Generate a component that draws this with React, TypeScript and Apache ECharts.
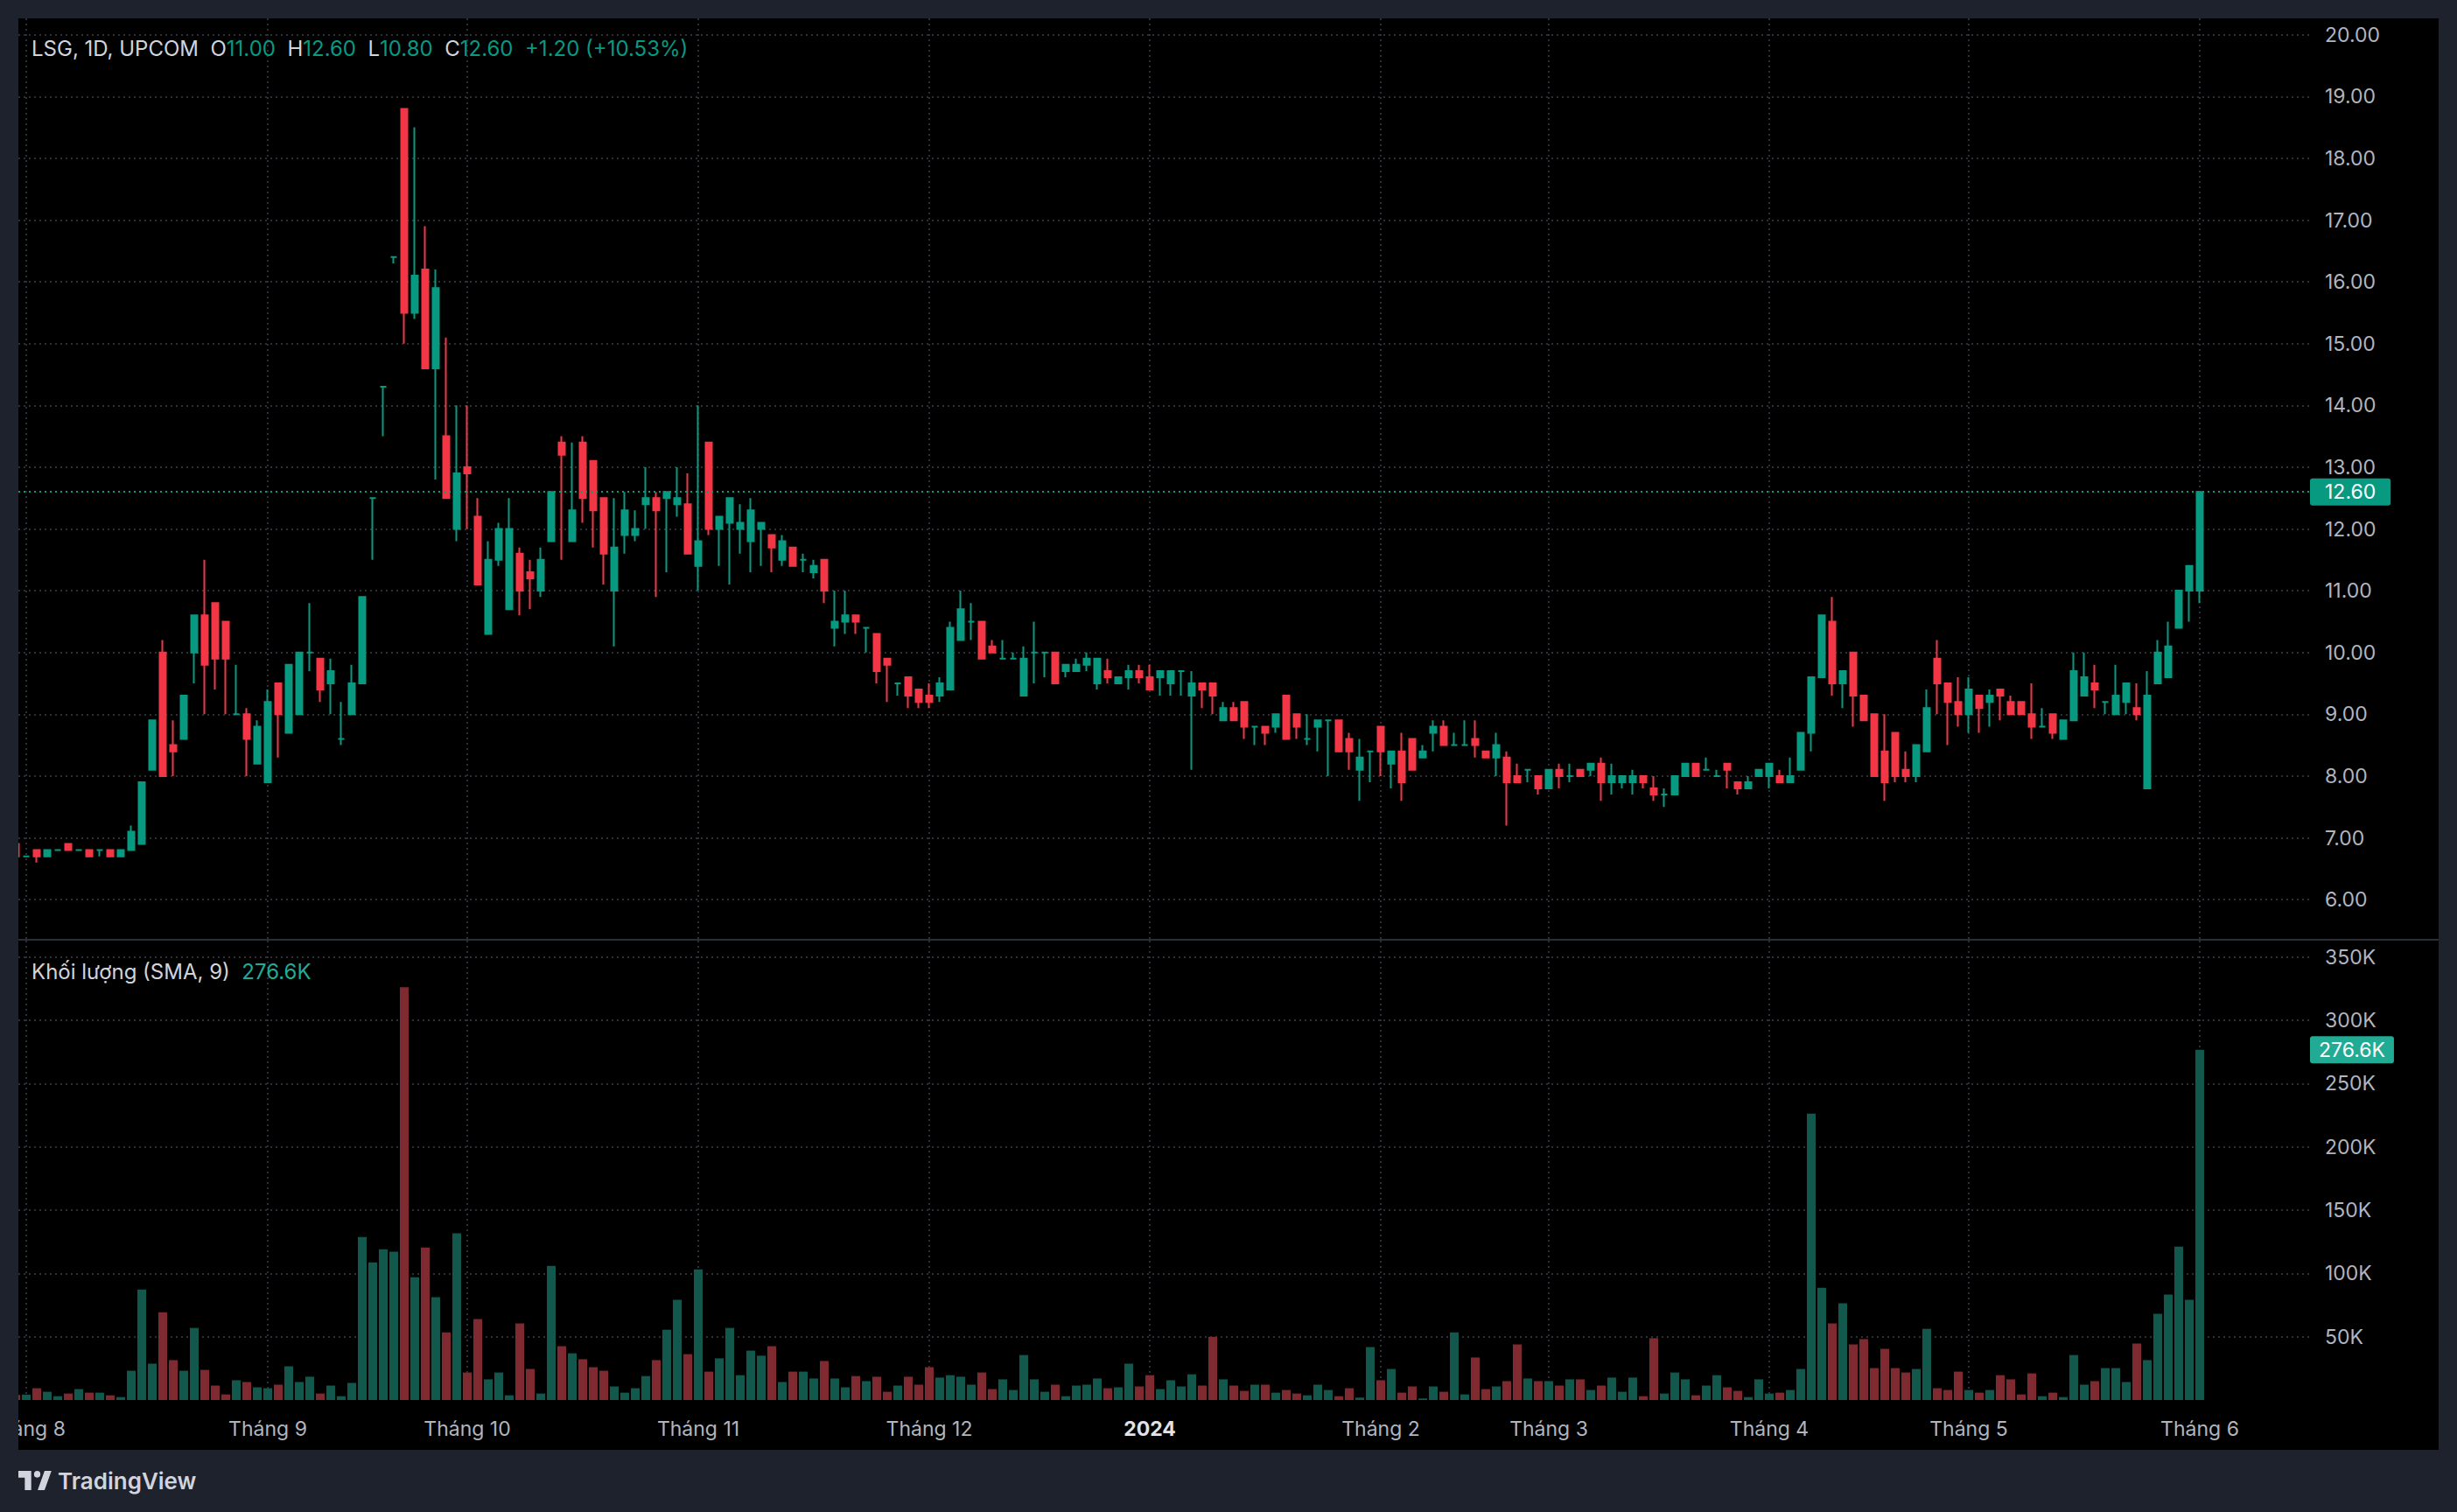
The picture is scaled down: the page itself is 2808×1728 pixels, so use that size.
import React, { useEffect, useRef } from 'react';
import * as echarts from 'echarts';

// ---------------- DATA ----------------
const opens = [
  6.9, 6.7, 6.8, 6.7, 6.8, 6.9, 6.8, 6.8, 6.8, 6.8,
  6.7, 6.8, 6.9, 8.1, 10.0, 8.5, 8.6, 10.0, 10.6, 10.8,
  10.5, 9.0, 9.0, 8.2, 7.9, 9.5, 8.7, 9.0, 10.0, 9.9,
  9.5, 8.6, 9.0, 9.5, 12.5, 14.3, 16.4, 18.8, 15.5, 16.2,
  14.6, 13.5, 12.0, 13.0, 12.2, 10.3, 11.5, 10.7, 11.6, 11.3,
  11.0, 11.8, 13.4, 11.8, 13.4, 13.1, 12.5, 11.0, 11.9, 11.9,
  12.4, 12.5, 12.5, 12.4, 12.4, 11.4, 13.4, 12.0, 12.1, 12.0,
  11.8, 12.0, 11.9, 11.5, 11.7, 11.5, 11.3, 11.5, 10.4, 10.5,
  10.6, 10.4, 10.3, 9.9, 9.5, 9.6, 9.4, 9.3, 9.3, 9.4,
  10.2, 10.5, 10.5, 10.1, 9.9, 9.9, 9.3, 10.0, 10.0, 10.0,
  9.7, 9.7, 9.8, 9.5, 9.7, 9.5, 9.6, 9.7, 9.6, 9.6,
  9.5, 9.7, 9.3, 9.5, 9.5, 8.9, 9.1, 9.2, 8.8, 8.8,
  8.8, 9.3, 9.0, 8.6, 8.8, 8.9, 8.9, 8.6, 8.1, 8.4,
  8.8, 8.2, 8.4, 8.6, 8.3, 8.7, 8.8, 8.5, 8.5, 8.6,
  8.4, 8.3, 8.3, 8.0, 8.1, 8.0, 7.8, 8.1, 8.0, 8.1,
  8.1, 8.2, 7.9, 7.9, 7.9, 8.0, 7.8, 7.7, 7.7, 8.0,
  8.2, 8.1, 8.0, 8.2, 7.9, 7.8, 8.0, 8.0, 8.0, 7.9,
  8.1, 8.7, 9.6, 10.5, 9.5, 10.0, 9.3, 9.0, 8.4, 8.7,
  8.1, 8.0, 8.4, 9.9, 9.5, 9.2, 9.0, 9.3, 9.2, 9.4,
  9.2, 9.2, 9.0, 8.8, 9.0, 8.6, 8.9, 9.3, 9.5, 9.2,
  9.0, 9.2, 9.1, 7.8, 9.5, 9.6, 10.4, 11.0, 11.0,
];

const closes = [
  6.7, 6.7, 6.7, 6.8, 6.8, 6.8, 6.8, 6.7, 6.8, 6.7,
  6.8, 7.1, 7.9, 8.9, 8.0, 8.4, 9.3, 10.6, 9.8, 9.9,
  9.9, 9.0, 8.6, 8.8, 9.2, 9.0, 9.8, 10.0, 10.0, 9.4,
  9.7, 8.6, 9.5, 10.9, 12.5, 14.3, 16.4, 15.5, 16.1, 14.6,
  15.9, 12.5, 12.9, 12.9, 11.1, 11.5, 12.0, 12.0, 11.0, 11.2,
  11.5, 12.6, 13.2, 12.3, 12.5, 12.3, 11.6, 11.7, 12.3, 12.0,
  12.5, 12.3, 12.6, 12.5, 11.6, 11.8, 12.0, 12.2, 12.5, 12.1,
  12.3, 12.1, 11.7, 11.8, 11.4, 11.5, 11.4, 11.0, 10.5, 10.6,
  10.5, 10.4, 9.7, 9.8, 9.5, 9.3, 9.2, 9.2, 9.5, 10.4,
  10.7, 10.5, 9.9, 10.0, 9.9, 9.9, 9.9, 10.0, 10.0, 9.5,
  9.8, 9.8, 9.9, 9.9, 9.6, 9.6, 9.7, 9.6, 9.4, 9.7,
  9.7, 9.7, 9.5, 9.4, 9.3, 9.1, 8.9, 8.8, 8.8, 8.7,
  9.0, 8.6, 8.8, 8.6, 8.9, 8.9, 8.4, 8.4, 8.3, 8.4,
  8.4, 8.4, 7.9, 8.1, 8.4, 8.8, 8.5, 8.5, 8.5, 8.5,
  8.3, 8.5, 7.9, 7.9, 8.1, 7.8, 8.1, 8.0, 8.0, 8.0,
  8.2, 7.9, 8.0, 8.0, 8.0, 7.9, 7.7, 7.7, 8.0, 8.2,
  8.0, 8.1, 8.0, 8.1, 7.8, 7.9, 8.1, 8.2, 7.9, 8.0,
  8.7, 9.6, 10.6, 9.5, 9.7, 9.3, 8.9, 8.0, 7.9, 8.0,
  8.0, 8.5, 9.1, 9.5, 9.2, 9.0, 9.4, 9.1, 9.3, 9.3,
  9.0, 9.0, 8.8, 8.8, 8.7, 8.9, 9.7, 9.6, 9.4, 9.2,
  9.3, 9.5, 9.0, 9.3, 10.0, 10.1, 11.0, 11.4, 12.6,
];

const lows = [
  6.7, 6.7, 6.6, 6.7, 6.8, 6.8, 6.8, 6.7, 6.7, 6.7,
  6.7, 6.8, 6.9, 8.1, 8.0, 8.0, 8.6, 9.5, 9.0, 9.4,
  9.0, 9.0, 8.0, 8.2, 7.9, 8.3, 8.7, 9.0, 9.7, 9.2,
  9.0, 8.5, 9.0, 9.5, 11.5, 13.5, 16.3, 15.0, 15.4, 14.6,
  12.8, 12.5, 11.8, 12.0, 11.1, 10.3, 11.4, 10.7, 10.6, 10.7,
  10.9, 11.8, 11.5, 11.8, 12.1, 11.7, 11.1, 10.1, 11.6, 11.8,
  12.0, 10.9, 11.3, 12.2, 11.6, 11.0, 11.9, 11.4, 11.1, 11.6,
  11.3, 11.4, 11.3, 11.4, 11.4, 11.3, 11.2, 10.8, 10.1, 10.3,
  10.3, 10.0, 9.5, 9.2, 9.3, 9.1, 9.1, 9.1, 9.2, 9.4,
  10.2, 10.2, 9.9, 10.0, 9.9, 9.9, 9.3, 9.5, 9.6, 9.5,
  9.6, 9.7, 9.7, 9.4, 9.5, 9.5, 9.4, 9.5, 9.4, 9.3,
  9.3, 9.3, 8.1, 9.1, 9.0, 8.9, 8.9, 8.6, 8.5, 8.5,
  8.7, 8.6, 8.6, 8.5, 8.4, 8.0, 8.4, 8.1, 7.6, 7.9,
  8.0, 7.8, 7.6, 8.1, 8.3, 8.4, 8.5, 8.5, 8.5, 8.3,
  8.3, 8.0, 7.2, 7.9, 7.9, 7.7, 7.8, 7.8, 7.9, 8.0,
  8.0, 7.6, 7.7, 7.8, 7.7, 7.8, 7.6, 7.5, 7.7, 8.0,
  8.0, 8.1, 8.0, 7.8, 7.7, 7.8, 8.0, 7.8, 7.9, 7.9,
  8.1, 8.4, 9.6, 9.3, 9.1, 8.8, 8.9, 8.0, 7.6, 7.9,
  7.9, 7.9, 8.4, 9.0, 8.5, 8.8, 8.7, 8.7, 8.8, 8.9,
  9.0, 9.0, 8.6, 8.8, 8.6, 8.6, 8.9, 9.3, 9.1, 9.0,
  9.0, 9.0, 8.9, 7.8, 9.5, 9.6, 10.4, 10.5, 10.8,
];

const highs = [
  6.9, 6.7, 6.8, 6.8, 6.8, 6.9, 6.8, 6.8, 6.8, 6.8,
  6.8, 7.2, 7.9, 8.9, 10.2, 8.9, 9.3, 10.6, 11.5, 10.8,
  10.5, 9.8, 9.1, 8.9, 9.4, 9.5, 9.8, 10.0, 10.8, 9.9,
  9.9, 9.2, 9.8, 10.9, 12.5, 14.3, 16.4, 18.8, 18.5, 16.9,
  16.2, 15.1, 14.0, 14.0, 12.5, 11.8, 12.1, 12.5, 11.7, 11.5,
  11.7, 12.6, 13.5, 13.4, 13.5, 13.1, 12.5, 12.5, 12.6, 12.3,
  13.0, 12.6, 12.6, 13.0, 12.9, 14.0, 13.4, 12.2, 12.5, 12.4,
  12.5, 12.1, 11.9, 11.9, 11.7, 11.6, 11.5, 11.5, 11.0, 11.0,
  10.6, 10.4, 10.3, 9.9, 9.5, 9.6, 9.4, 9.5, 9.6, 10.5,
  11.0, 10.8, 10.5, 10.2, 10.2, 10.0, 10.1, 10.5, 10.0, 10.0,
  9.8, 9.9, 10.0, 9.9, 9.9, 9.6, 9.8, 9.8, 9.8, 9.7,
  9.7, 9.7, 9.7, 9.5, 9.5, 9.2, 9.2, 9.2, 8.8, 8.8,
  9.0, 9.3, 9.0, 9.0, 8.9, 8.9, 8.9, 8.7, 8.6, 8.4,
  8.8, 8.4, 8.7, 8.6, 8.5, 8.9, 8.9, 8.7, 8.9, 8.9,
  8.4, 8.7, 8.4, 8.2, 8.1, 8.0, 8.1, 8.2, 8.2, 8.1,
  8.2, 8.3, 8.2, 8.0, 8.1, 8.0, 8.0, 7.8, 8.0, 8.2,
  8.2, 8.3, 8.1, 8.2, 7.9, 8.0, 8.1, 8.2, 8.1, 8.3,
  8.7, 9.6, 10.6, 10.9, 9.7, 10.0, 9.3, 9.0, 9.0, 8.7,
  8.4, 8.5, 9.4, 10.2, 9.5, 9.6, 9.6, 9.3, 9.4, 9.4,
  9.3, 9.2, 9.5, 9.1, 9.0, 8.9, 10.0, 10.0, 9.8, 9.2,
  9.8, 9.5, 9.5, 9.7, 10.2, 10.5, 11.0, 11.4, 12.6,
];

// volume in thousands of shares
const volumesK = [
  4.0, 4.2, 9.3, 6.5, 3.0, 5.1, 8.6, 5.8, 5.8, 3.7,
  2.3, 23.1, 87.3, 28.7, 69.3, 31.5, 23.1, 56.9, 23.8, 11.4,
  4.4, 15.6, 14.2, 10.0, 9.3, 12.1, 26.6, 14.2, 18.4, 5.1,
  11.4, 3.0, 13.5, 128.8, 108.7, 119.0, 117.1, 326.0, 97.0, 120.4,
  81.2, 53.4, 131.6, 21.7, 63.9, 16.3, 21.7, 3.7, 60.4, 24.5,
  5.1, 105.9, 42.5, 36.9, 32.2, 25.9, 23.1, 10.7, 5.8, 9.3,
  18.9, 31.5, 55.5, 79.1, 36.2, 103.1, 22.4, 32.9, 56.9, 19.6,
  39.0, 35.0, 42.5, 14.2, 22.4, 22.4, 17.0, 30.8, 17.0, 10.0,
  18.9, 14.9, 18.4, 6.5, 11.4, 18.4, 12.1, 25.9, 17.7, 19.6,
  18.4, 12.1, 21.7, 8.6, 16.3, 7.9, 35.5, 16.3, 6.5, 12.1,
  3.0, 11.4, 12.1, 17.0, 9.3, 10.0, 28.7, 10.7, 19.6, 8.6,
  15.6, 10.7, 20.3, 11.4, 49.9, 16.3, 11.4, 7.2, 12.1, 12.1,
  5.8, 7.9, 5.1, 3.7, 12.1, 7.9, 3.0, 9.3, 1.9, 41.8,
  15.6, 24.5, 5.8, 10.7, 1.2, 10.7, 6.5, 53.4, 4.4, 33.6,
  8.6, 10.7, 14.9, 43.9, 17.0, 14.9, 14.9, 11.4, 16.3, 16.3,
  7.9, 11.4, 17.7, 6.5, 17.7, 3.0, 48.8, 5.1, 21.7, 16.3,
  3.7, 11.4, 19.6, 10.0, 7.2, 2.3, 16.3, 5.1, 5.8, 7.9,
  24.5, 226.1, 88.7, 60.4, 76.3, 43.9, 48.1, 25.2, 40.4, 25.2,
  21.7, 24.5, 56.2, 9.3, 7.9, 22.4, 7.9, 5.8, 7.9, 19.6,
  16.3, 4.4, 21.0, 3.0, 5.8, 2.3, 35.5, 12.1, 14.9, 25.2,
  25.2, 14.2, 44.6, 31.5, 68.1, 83.3, 121.1, 79.1, 276.6,
];

// time axis: index of first trading day of each month, and its label
const monthTickIndex = [1, 24, 43, 65, 87, 108, 130, 146, 167, 186, 208];
const monthTickLabels = ['Tháng 8', 'Tháng 9', 'Tháng 10', 'Tháng 11', 'Tháng 12', '2024', 'Tháng 2', 'Tháng 3', 'Tháng 4', 'Tháng 5', 'Tháng 6'];
const yearLabels = ['2024'];

const priceTicks = [6, 7, 8, 9, 10, 11, 12, 13, 14, 15, 16, 17, 18, 19, 20];
const volumeTicks = [50000, 100000, 150000, 200000, 250000, 300000, 350000];

const symbolTitle = 'LSG, 1D, UPCOM';
const volumeTitle = 'Khối lượng (SMA, 9)';
const brandName = 'TradingView';

// ---------------- STYLE ----------------
const UP = '#089981';
const DOWN = '#f23645';
const VOL_UP = '#12584d';
const VOL_DOWN = '#7f2a31';
const FRAME = '#1e222d';
const AXIS_TEXT = '#b2b5be';
const LEGEND_TEXT = '#d1d4dc';
const FONT = 'Inter, Roboto, "Noto Sans", sans-serif';
const GRID_LINE = { color: '#2c2f37', width: 2, type: [2, 4] as any };

// logo shape (approximation of the TradingView mark)
echarts.graphic.registerShape(
  'tvlogo',
  echarts.graphic.extendPath(
    'M0 0H14V20H7V7H0Z M24 3.5A3.5 3.5 0 1 1 17 3.5A3.5 3.5 0 1 1 24 3.5Z M21 20L28.5 0H36L28.5 20Z',
    {}
  ) as any
);

export default function App() {
  const ref = useRef<HTMLDivElement>(null);

  useEffect(() => {
    const el = ref.current;
    if (!el) return;
    const chart = echarts.init(el, null, { renderer: 'svg' });

    const W = 2808;
    const H = 1728;
    const paneLeft = 21;
    const paneRight = 2640;
    const axisRight = 2787;
    const priceTop = 21;
    const priceBottom = 1073;
    const volTop = 1075;
    const volBottom = 1600;
    const frameBottom = 1657;

    const pxPerCandle = 12;
    const xMin = 0.25;
    const xMax = xMin + (paneRight - paneLeft) / pxPerCandle;

    // price scale: 20 at y=39.7, 70.6 px per unit
    const y20 = 39.7;
    const pxPerUnit = 70.6;
    const priceMax = 20 + (y20 - priceTop) / pxPerUnit;
    const priceMin = 20 - (priceBottom - y20) / pxPerUnit;
    // volume scale: 72.35 px per 50K
    const volMax = ((volBottom - volTop) / 72.35) * 50000;

    const n = opens.length;
    const last = n - 1;
    const lastClose = closes[last];
    const prevClose = closes[last - 1];
    const chg = lastClose - prevClose;
    const chgPct = (chg / prevClose) * 100;
    const lastVol = volumesK[last] * 1000;

    const candleData = opens.map((o, i) => {
      const c = closes[i];
      const col = c >= o ? UP : DOWN;
      return {
        value: [i, o, c, lows[i], highs[i]],
        itemStyle: { color: col, color0: col, borderColor: col, borderColor0: col, borderColorDoji: col },
      };
    });
    const volData = volumesK.map((v, i) => ({
      value: [i, v * 1000],
      itemStyle: { color: closes[i] >= opens[i] ? VOL_UP : VOL_DOWN },
    }));

    const labelFor = (v: number) => {
      const k = monthTickIndex.indexOf(Math.round(v));
      if (k < 0) return '';
      const t = monthTickLabels[k];
      return yearLabels.includes(t) ? `{y|${t}}` : t;
    };

    const fmt = (v: number) => v.toFixed(2);
    const sign = chg >= 0 ? '+' : '';
    const headerText =
      `{n|${symbolTitle}}  ` +
      `{n|O}{v|${fmt(opens[last])}}  ` +
      `{n|H}{v|${fmt(highs[last])}}  ` +
      `{n|L}{v|${fmt(lows[last])}}  ` +
      `{n|C}{v|${fmt(lastClose)}}  ` +
      `{v|${sign}${fmt(chg)} (${sign}${fmt(chgPct)}%)}`;

    const option: any = {
      animation: false,
      backgroundColor: '#000000',
      textStyle: { fontFamily: FONT },
      grid: [
        { left: paneLeft, top: priceTop, width: paneRight - paneLeft, height: priceBottom - priceTop, containLabel: false, outerBoundsMode: 'none' },
        { left: paneLeft, top: volTop, width: paneRight - paneLeft, height: volBottom - volTop, containLabel: false, outerBoundsMode: 'none' },
      ],
      xAxis: [
        {
          type: 'value', gridIndex: 0, min: xMin, max: xMax,
          axisLine: { show: false },
          axisTick: { show: false, customValues: monthTickIndex },
          axisLabel: { show: false, customValues: monthTickIndex },
          splitLine: { show: true, lineStyle: GRID_LINE },
        },
        {
          type: 'value', gridIndex: 1, min: xMin, max: xMax,
          axisLine: { show: false },
          axisTick: { show: false, customValues: monthTickIndex },
          axisLabel: {
            show: true, customValues: monthTickIndex, formatter: labelFor,
            color: AXIS_TEXT, fontSize: 23, margin: 21, fontFamily: FONT,
            rich: { y: { fontWeight: 'bold', color: '#e0e3eb', fontSize: 23, fontFamily: FONT } },
          },
          splitLine: { show: true, lineStyle: GRID_LINE },
        },
      ],
      yAxis: [
        {
          type: 'value', gridIndex: 0, position: 'right', min: priceMin, max: priceMax,
          axisLine: { show: false },
          axisTick: { show: false, customValues: priceTicks },
          axisLabel: {
            customValues: priceTicks, formatter: (v: number) => v.toFixed(2),
            align: 'left', margin: 17, color: AXIS_TEXT, fontSize: 23, fontFamily: FONT,
          },
          splitLine: { show: true, lineStyle: GRID_LINE },
        },
        {
          type: 'value', gridIndex: 1, position: 'right', min: 0, max: volMax,
          axisLine: { show: false },
          axisTick: { show: false, customValues: volumeTicks },
          axisLabel: {
            customValues: volumeTicks, formatter: (v: number) => `${Math.round(v / 1000)}K`,
            align: 'left', margin: 17, color: AXIS_TEXT, fontSize: 23, fontFamily: FONT,
          },
          splitLine: { show: true, lineStyle: GRID_LINE },
        },
      ],
      series: [
        {
          type: 'candlestick',
          xAxisIndex: 0, yAxisIndex: 0,
          clip: false,
          barWidth: 8,
          encode: { x: 0, y: [1, 2, 3, 4] },
          itemStyle: { color: UP, color0: DOWN, borderColor: UP, borderColor0: DOWN, borderWidth: 2 },
          data: candleData,
          markLine: {
            silent: true,
            symbol: ['none', 'none'],
            lineStyle: { color: UP, width: 2, type: [2, 4] },
            label: {
              show: true, position: 'end', distance: 0,
              formatter: () => fmt(lastClose),
              color: '#ffffff', backgroundColor: chg >= 0 ? UP : DOWN,
              padding: [4, 17, 4, 17], borderRadius: 3, fontSize: 23, fontFamily: FONT,
            },
            data: [{ yAxis: lastClose }],
          },
        },
        {
          type: 'bar',
          xAxisIndex: 1, yAxisIndex: 1,
          barWidth: 10,
          data: volData,
          markLine: {
            silent: true,
            symbol: ['none', 'none'],
            lineStyle: { color: 'rgba(0,0,0,0)', width: 1, type: 'solid' },
            label: {
              show: true, position: 'end', distance: 0,
              formatter: () => `${(lastVol / 1000).toFixed(1)}K`,
              color: '#ffffff', backgroundColor: '#22ab94',
              padding: [4, 10, 4, 10], borderRadius: 3, fontSize: 23, fontFamily: FONT,
            },
            data: [{ yAxis: lastVol }],
          },
        },
      ],
      graphic: [
        { type: 'rect', silent: true, z: 100, shape: { x: 0, y: 0, width: W, height: priceTop }, style: { fill: FRAME } },
        { type: 'rect', silent: true, z: 100, shape: { x: 0, y: 0, width: paneLeft, height: H }, style: { fill: FRAME } },
        { type: 'rect', silent: true, z: 100, shape: { x: axisRight, y: 0, width: W - axisRight, height: H }, style: { fill: FRAME } },
        { type: 'rect', silent: true, z: 100, shape: { x: 0, y: frameBottom, width: W, height: H - frameBottom }, style: { fill: FRAME } },
        { type: 'line', silent: true, z: 100, shape: { x1: paneLeft, y1: 1074, x2: axisRight, y2: 1074 }, style: { stroke: '#2a2e39', lineWidth: 2 } },
        {
          type: 'text', silent: true, z: 110, x: 36, y: 55,
          style: {
            text: headerText, verticalAlign: 'middle', fontSize: 24, fontFamily: FONT,
            rich: {
              n: { fill: LEGEND_TEXT, fontSize: 24, fontFamily: FONT },
              v: { fill: UP, fontSize: 24, fontFamily: FONT },
            },
          },
        },
        {
          type: 'text', silent: true, z: 110, x: 36, y: 1110,
          style: {
            text: `{n|${volumeTitle}}  {v|${(lastVol / 1000).toFixed(1)}K}`,
            verticalAlign: 'middle', fontSize: 24, fontFamily: FONT,
            rich: {
              n: { fill: LEGEND_TEXT, fontSize: 24, fontFamily: FONT },
              v: { fill: '#22ab94', fontSize: 24, fontFamily: FONT },
            },
          },
        },
        { type: 'tvlogo', silent: true, z: 110, x: 21, y: 1681, scaleX: 1.05, scaleY: 1.1, style: { fill: LEGEND_TEXT } },
        {
          type: 'text', silent: true, z: 110, x: 66, y: 1692,
          style: { text: brandName, fill: LEGEND_TEXT, fontSize: 26, fontWeight: 600, fontFamily: FONT, verticalAlign: 'middle' },
        },
      ],
    };

    chart.setOption(option);
    return () => chart.dispose();
  }, []);

  return <div ref={ref} style={{ position: 'fixed', left: 0, top: 0, width: 2808, height: 1728 }} />;
}
